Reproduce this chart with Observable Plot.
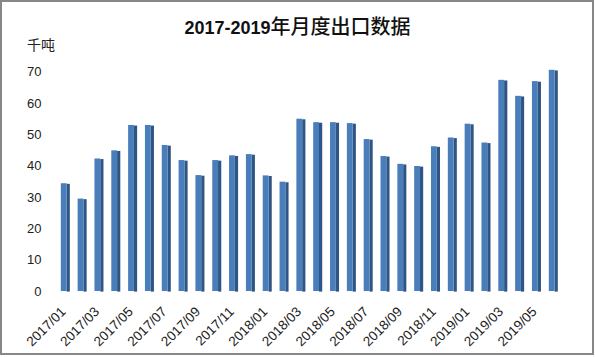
<!DOCTYPE html>
<html>
<head>
<meta charset="utf-8">
<script src="https://cdn.jsdelivr.net/npm/d3@7"></script>
<script src="https://cdn.jsdelivr.net/npm/@observablehq/plot@0.6"></script>
<style>
  html, body { margin: 0; padding: 0; background: #fff; }
  #wrap { position: relative; width: 595px; height: 357px; overflow: hidden; }
  #frame { position: absolute; left: 0; top: 0; width: 590px; height: 351px; border: 2px solid #878787; pointer-events: none; }
  #title { position: absolute; left: 0; width: 595px; top: 11px; text-align: center; white-space: nowrap; color: #111; }
  #title .num { font-family: "Liberation Sans", Arial, sans-serif; font-weight: bold; font-size: 18px; }
  #title .cjk { font-family: "Noto Sans CJK SC", sans-serif; font-weight: 500; font-size: 20px; }
  #unit { position: absolute; left: 27px; top: 34px; font-family: "Noto Sans CJK SC", sans-serif; font-size: 14px; color: #222; }
  #chart { position: absolute; left: 0; top: 0; width: 595px; height: 357px; }
</style>
</head>
<body>
<div id="wrap">
  <div id="chart"></div>
  <div id="title"><span class="num">2017-2019</span><span class="cjk">年月度出口数据</span></div>
  <div id="unit">千吨</div>
  <div id="frame"></div>
</div>
<script>
const months = [
  "2017/01","2017/02","2017/03","2017/04","2017/05","2017/06","2017/07","2017/08","2017/09","2017/10","2017/11","2017/12",
  "2018/01","2018/02","2018/03","2018/04","2018/05","2018/06","2018/07","2018/08","2018/09","2018/10","2018/11","2018/12",
  "2019/01","2019/02","2019/03","2019/04","2019/05","2019/06"
];
const values = [
  34.4, 29.5, 42.3, 44.9, 53.0, 53.0, 46.6, 41.8, 37.0, 41.8, 43.3, 43.7,
  36.9, 34.9, 55.0, 53.9, 53.9, 53.6, 48.5, 43.1, 40.6, 39.9, 46.2, 49.0,
  53.4, 47.4, 67.4, 62.3, 67.0, 70.6
];
const yTicks = [0, 10, 20, 30, 40, 50, 60, 70];
const labelMonths = months.filter((m, i) => i % 2 === 0);

const data = months.map((m, i) => ({month: m, value: values[i]}));
const labels = labelMonths.map(m => ({month: m}));

const chart = Plot.plot({
  width: 595,
  height: 357,
  marginTop: 71.7,
  marginBottom: 66,
  marginLeft: 56.6,
  marginRight: 33.6,
  style: {background: "transparent", overflow: "visible"},
  x: {domain: months, range: [56.6, 561.4], round: false, paddingInner: 0.5, paddingOuter: 0.25, align: 0.5, axis: null},
  y: {domain: [0, 70], axis: null},
  marks: [
    // darker right side of the 3D bars
    Plot.barY(data, {x: "month", y: "value", fill: "#2f5585", insetLeft: 5.8, insetRight: -0.6, dy: 0.6}),
    // front face
    Plot.barY(data, {x: "month", y: "value", fill: "#4a7ebb", insetRight: 2.6}),
    // top highlight
    Plot.barY(data, {x: "month", y1: "value", y2: "value", stroke: "#6f9ad0", strokeWidth: 1.2, insetRight: 1.5}),
    Plot.axisY({ticks: yTicks, label: null, tickSize: 0, tickPadding: 15.6, fontSize: 13, fill: "#222",
      fontFamily: "Liberation Sans, Arial, sans-serif"}),
    Plot.text(labels, {x: "month", frameAnchor: "bottom", rotate: -45, textAnchor: "end",
      text: "month", dy: 21, dx: 1, fontSize: 13.5, fill: "#222",
      fontFamily: "Liberation Sans, Arial, sans-serif"})
  ]
});
document.getElementById("chart").appendChild(chart);
</script>
</body>
</html>
